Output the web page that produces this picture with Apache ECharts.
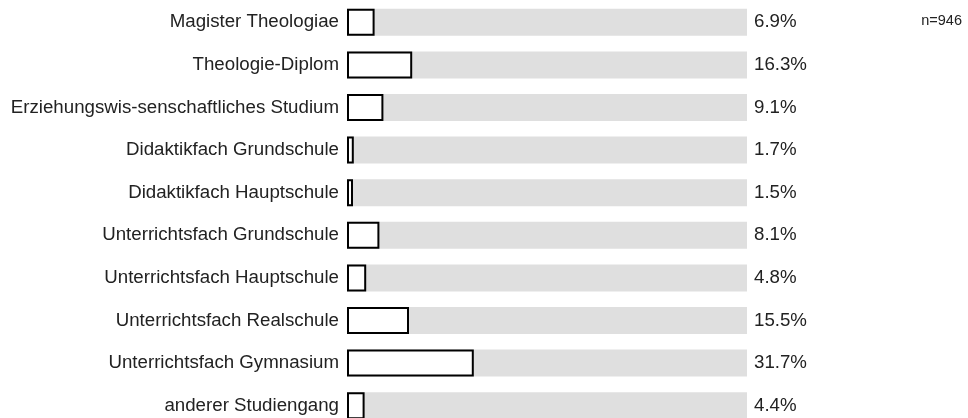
<!DOCTYPE html>
<html><head><meta charset="utf-8">
<script src="https://cdn.jsdelivr.net/npm/echarts@6/dist/echarts.min.js"></script>
<style>html,body{margin:0;padding:0;background:#fff;overflow:hidden}#c{width:968px;height:440px}</style>
</head><body><div id="c"></div>
<script>
const categories = ["Magister Theologiae","Theologie-Diplom","Erziehungswis-senschaftliches Studium","Didaktikfach Grundschule","Didaktikfach Hauptschule","Unterrichtsfach Grundschule","Unterrichtsfach Hauptschule","Unterrichtsfach Realschule","Unterrichtsfach Gymnasium","anderer Studiengang"];
const values = [6.9,16.3,9.1,1.7,1.5,8.1,4.8,15.5,31.7,4.4];
const fullScale = categories.map(() => 100);
const nLabel = "n=946";

const FONT = 'Liberation Sans, Arial, sans-serif';
const chart = echarts.init(document.getElementById('c'), null, {renderer:'canvas'});
chart.setOption({
  animation:false,
  textStyle:{fontFamily:FONT},
  title:{text:nLabel, right:1, top:8, textStyle:{fontSize:14.5, fontWeight:'normal', color:'#222', fontFamily:FONT}},
  grid:{left:347, top:1, width:400, height:426},
  xAxis:{type:'value', min:0, max:100, show:false},
  yAxis:{type:'category', data:categories, inverse:true, axisLine:{show:false}, axisTick:{show:false},
    axisLabel:{fontSize:18.7, color:'#222', margin:8, fontFamily:FONT}},
  series:[
    {type:'bar', data:fullScale, barWidth:27, silent:true, itemStyle:{color:'#dfdfdf'},
     label:{show:true, position:'right', distance:7, fontSize:18.7, color:'#222',
       formatter:p => values[p.dataIndex].toFixed(1) + '%'}},
    {type:'bar', data:values, barWidth:27, barGap:'-100%', itemStyle:{color:'#fff', borderColor:'#000', borderWidth:2}}
  ]
});
</script></body></html>
